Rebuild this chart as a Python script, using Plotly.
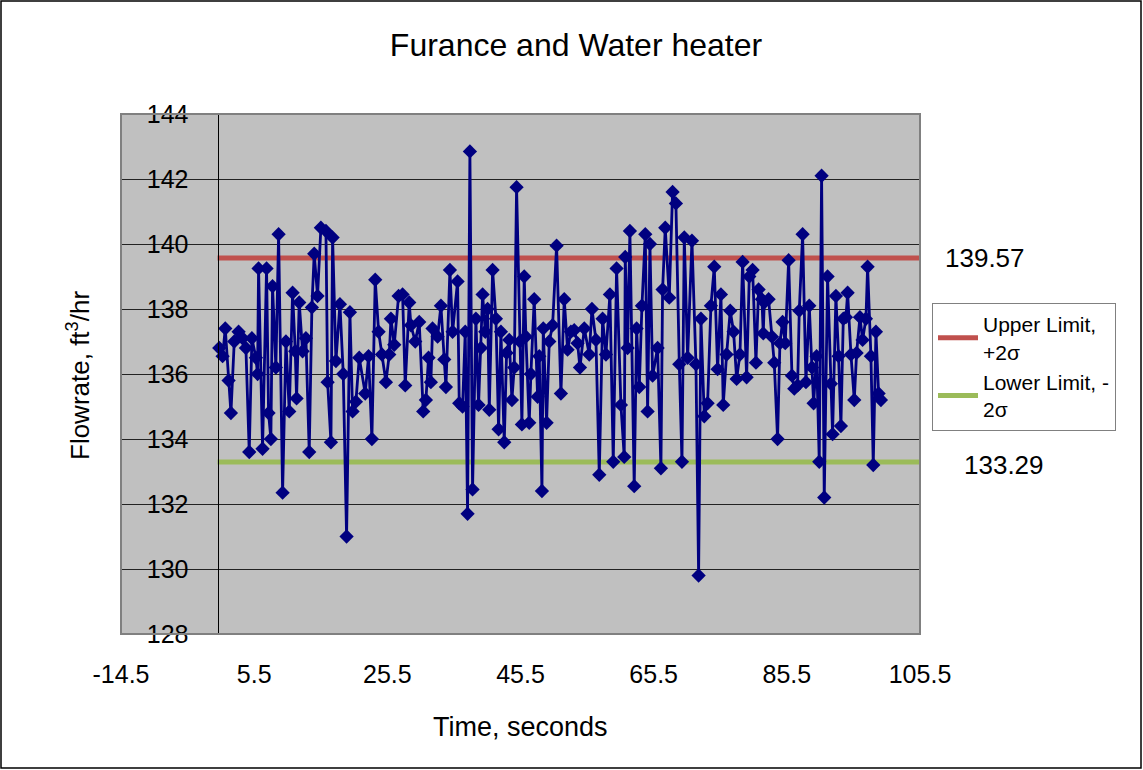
import plotly.graph_objects as go

# ---------------- data ----------------
time_s = [
    0.26, 0.76, 1.16, 1.66, 2.01, 2.51, 3.16, 3.76, 4.26, 4.76, 5.16, 5.76, 6.01, 6.16, 6.76,
    7.36, 7.66, 8.01, 8.26, 8.76, 9.17, 9.77, 10.27, 10.77, 11.27, 11.67, 11.87, 12.27, 12.77,
    13.27, 13.77, 14.17, 14.52, 15.02, 15.52,
    16.28, 16.53, 17.03, 17.28, 17.78, 18.38, 18.88, 19.38, 19.88, 20.28, 20.78, 21.28, 22.18,
    22.68, 23.18, 23.68, 24.19, 24.69, 25.29, 25.79, 26.04, 26.54, 27.19, 27.79, 28.19, 28.79,
    29.04, 29.69, 30.29, 30.89, 31.29, 31.69, 32.04, 32.29,
    33.05, 33.55, 34.05, 34.30, 34.90, 35.30, 36.05, 36.30, 36.80, 37.20, 37.55, 37.90, 38.30,
    38.80, 39.20, 39.56, 39.81, 40.21, 40.56, 40.81, 41.31, 41.81, 42.21, 42.56, 43.06, 43.41,
    43.81, 44.21, 44.56, 44.91, 45.41, 45.71, 46.06, 46.31, 46.81, 47.06, 47.56, 48.07, 48.32,
    48.72, 48.92,
    49.42, 49.82, 50.32, 50.92, 51.57, 52.07, 52.57, 53.07, 53.57, 54.07, 54.43, 55.08, 55.83,
    56.23, 56.83, 57.33, 57.83, 58.33, 58.93, 59.43, 59.93, 60.58, 61.08, 61.23, 61.58, 61.93,
    62.58, 62.94, 63.34, 63.74, 64.24, 64.59, 64.94, 65.34,
    66.09, 66.59, 66.84, 67.24, 67.84, 68.34, 68.84, 69.35, 69.75, 70.10, 70.60, 71.25, 71.85,
    72.25, 72.60, 73.10, 73.60, 74.10, 74.60, 75.10, 75.60, 75.95, 76.45, 77.00, 77.50, 77.96,
    78.46, 78.86, 79.46, 79.86, 80.36, 80.86, 81.26, 81.76, 81.96,
    82.11, 82.76, 83.26, 83.61, 84.11, 84.46, 84.86, 85.26, 85.77, 86.27, 86.62, 87.12, 87.37,
    87.87, 88.37, 88.87, 89.27, 89.52, 89.97, 90.37, 90.72, 91.12, 91.62, 92.12, 92.37, 92.87,
    93.27, 93.62, 93.98, 94.38, 94.63, 95.13, 95.63, 95.98, 96.48, 96.88, 97.38, 97.63, 98.13,
    98.48, 98.88, 99.28, 99.63,
]
flow = [
    136.8, 136.55, 137.4, 135.8, 134.8, 137.0, 137.3, 137.1, 136.8, 133.6, 137.1, 136.5, 136.0,
    139.25, 133.7, 139.25, 134.8, 134.0, 138.7, 136.2, 140.3, 132.35, 137.0, 134.85, 138.5,
    136.7, 135.25, 138.2, 136.7, 137.1, 133.6, 138.05, 139.7, 138.4, 140.5,
    140.4, 135.75, 133.9, 140.2, 136.4, 138.15, 136.0, 131.0, 137.9, 134.85, 135.15, 136.5,
    135.4, 136.55, 134.0, 138.9, 137.3, 136.6, 135.75, 136.6, 137.7, 136.9, 138.4, 138.45,
    135.65, 138.2, 137.5, 137.0, 137.6, 134.85, 135.2, 136.5, 135.75, 137.4,
    137.15, 138.1, 136.45, 135.6, 139.2, 137.3, 138.85, 135.1, 135.0, 137.3, 131.7, 142.85,
    132.45, 137.7, 135.05, 136.8, 138.45, 137.3, 138.0, 134.9, 139.2, 137.7, 134.3, 137.3,
    133.9, 136.65, 137.05, 135.2, 136.2, 141.75, 137.0, 134.45, 139.0, 137.15, 134.5, 136.0,
    138.3, 135.3, 136.55, 132.4, 137.4,
    134.5, 137.0, 137.5, 139.95, 135.4, 138.3, 136.75, 137.3, 137.35, 136.95, 136.2, 137.4,
    136.6, 138.0, 137.05, 132.9, 137.7, 136.6, 138.45, 133.3, 139.25, 135.05, 133.45, 139.6,
    136.8, 140.4, 132.55, 137.4, 135.6, 138.1, 140.3, 134.85, 140.0, 135.95,
    136.8, 133.1, 138.6, 140.5, 138.35, 141.6, 141.25, 136.3, 133.3, 140.2, 136.5, 140.1,
    136.3, 129.8, 137.7, 134.7, 135.1, 138.1, 139.3, 136.15, 138.45, 135.05, 136.6, 137.95,
    137.3, 135.85, 136.6, 139.45, 135.9, 139.0, 139.2, 136.35, 138.6, 138.3, 137.25,
    138.2, 138.3, 137.15, 136.35, 134.0, 136.95, 137.6, 136.95, 139.5, 135.95, 135.55, 135.65,
    137.95, 140.3, 135.75, 138.1, 136.2, 135.1, 136.55, 133.3, 142.1, 132.2, 139.0, 135.7,
    134.15, 138.4, 136.55, 134.4, 137.7, 137.75, 138.5, 136.6, 135.2, 136.65, 137.75, 137.05,
    137.7, 139.3, 136.55, 133.2, 137.3, 135.4, 135.2,
]

upper_limit = 139.57
lower_limit = 133.29
limit_span = [0, 105.5]

x_range = [-14.5, 105.5]
x_ticks = [-14.5, 5.5, 25.5, 45.5, 65.5, 85.5, 105.5]
x_tick_labels = ["-14.5", "5.5", "25.5", "45.5", "65.5", "85.5", "105.5"]
y_range = [128, 144]
y_ticks = [128, 130, 132, 134, 136, 138, 140, 142, 144]

upper_name = "Upper Limit,<br>+2σ"
lower_name = "Lower Limit, -<br>2σ"

# ---------------- layout geometry ----------------
W, H = 1143, 770
L, R, T, B = 121, 223, 114, 136
PW, PH = W - L - R, H - T - B


def px_x(px):
    return (px - L) / PW


def px_y(py):
    return (H - B - py) / PH


FONT = "Liberation Sans, Arial, sans-serif"

fig = go.Figure()
fig.add_trace(go.Scatter(
    x=limit_span, y=[upper_limit, upper_limit], mode="lines", name=upper_name,
    line=dict(color="#C0504D", width=5), hoverinfo="skip"))
fig.add_trace(go.Scatter(
    x=limit_span, y=[lower_limit, lower_limit], mode="lines", name=lower_name,
    line=dict(color="#9BBB59", width=5), hoverinfo="skip"))
fig.add_trace(go.Scatter(
    x=time_s, y=flow, mode="lines+markers", name="Flowrate", showlegend=False,
    line=dict(color="#000080", width=2.8),
    marker=dict(symbol="diamond", size=11, color="#000080", line=dict(width=0))))

# y axis crosses at x = 0
y_axis_pos = (0 - x_range[0]) / (x_range[1] - x_range[0])

fig.update_layout(
    width=W, height=H,
    margin=dict(l=L, r=R, t=T, b=B, autoexpand=False),
    paper_bgcolor="white",
    plot_bgcolor="#C0C0C0",
    font=dict(family=FONT, color="black"),
    title=dict(text="Furance and Water heater", x=576 / W, xref="container",
               xanchor="center", y=1 - 45 / H, yref="container", yanchor="middle",
               font=dict(size=32, family=FONT, color="black")),
    xaxis=dict(range=x_range, tickmode="array", tickvals=x_ticks, ticktext=x_tick_labels,
               showgrid=False, zeroline=False, showline=False, ticks="",
               tickfont=dict(size=25, family=FONT, color="black"),
               ticklabelstandoff=23),
    yaxis=dict(range=y_range, tickmode="array", tickvals=y_ticks,
               showgrid=True, gridcolor="#222222", gridwidth=1, zeroline=False,
               anchor="free", position=y_axis_pos, showline=True,
               linecolor="black", linewidth=1, ticks="",
               tickfont=dict(size=25, family=FONT, color="black"),
               ticklabelstandoff=24),
    legend=dict(x=px_x(932), y=px_y(303), xanchor="left", yanchor="top",
                bgcolor="white", bordercolor="#808080", borderwidth=1,
                font=dict(size=21, family=FONT, color="black"),
                tracegroupgap=2, itemwidth=40),
    showlegend=True,
)

fig.add_shape(type="rect", xref="paper", yref="paper", x0=0, y0=0, x1=1, y1=1,
              line=dict(color="#808080", width=2), layer="above")
fig.add_shape(type="rect", xref="paper", yref="paper",
              x0=px_x(1), y0=px_y(768), x1=px_x(1141), y1=px_y(1),
              line=dict(color="black", width=1.5), layer="above")

fig.add_annotation(text="Time, seconds", xref="paper", yref="paper",
                   x=0.5, y=px_y(727), xanchor="center", yanchor="middle",
                   showarrow=False, font=dict(size=27, family=FONT, color="black"))
fig.add_annotation(text="Flowrate, ft<sup>3</sup>/hr", xref="paper", yref="paper",
                   x=px_x(78), y=px_y(376), xanchor="center", yanchor="middle",
                   textangle=-90, showarrow=False,
                   font=dict(size=26, family=FONT, color="black"))
fig.add_annotation(text=f"{upper_limit:.2f}", xref="paper", yref="y",
                   x=px_x(985), y=upper_limit, xanchor="center", yanchor="middle",
                   showarrow=False, font=dict(size=26, family=FONT, color="black"))
fig.add_annotation(text=f"{lower_limit:.2f}", xref="paper", yref="y",
                   x=px_x(1004), y=lower_limit - 0.1, xanchor="center", yanchor="middle",
                   showarrow=False, font=dict(size=26, family=FONT, color="black"))

fig.write_html("out.html")
